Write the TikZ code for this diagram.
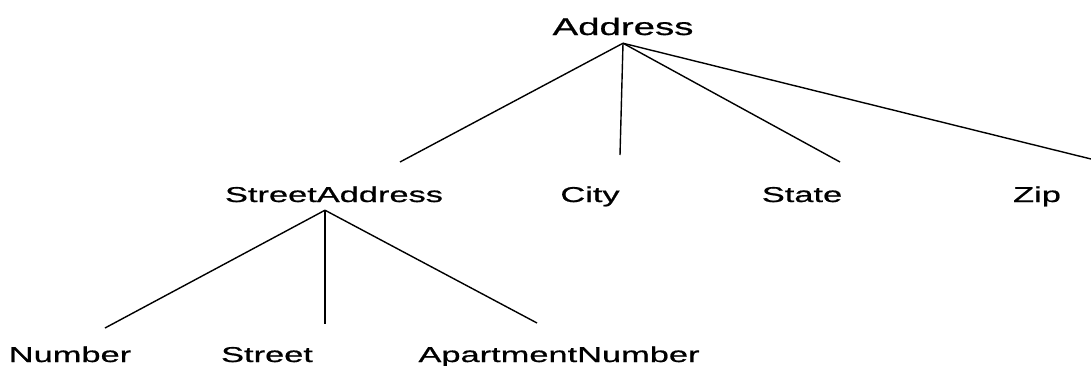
\documentclass[tikz,border=0pt]{standalone}
\usepackage{fontspec}
\usepackage{tikz}
\newfontfamily\treefont{Liberation Sans}[FakeStretch=1.6, FakeBold=0.8]
\tikzset{
  field/.style={font=\treefont\fontsize{21.5}{24}\selectfont, anchor=base, inner sep=0pt, outer ysep=8pt},
  rootfield/.style={field, font=\treefont\fontsize{24}{26}\selectfont},
  branch/.style={line width=1.4pt}
}

\begin{document}
\begin{tikzpicture}[x=1pt, y=-1pt]
\useasboundingbox (0,0) rectangle (1091,365);
% labels
\node[rootfield] (address) at (623,35) {Address};
\node[field] (streetaddr) at (334,202) {StreetAddress};
\node[field] (city) at (590,202) {City};
\node[field] (state) at (802,202) {State};
\node[field] (zip) at (1037,202) {Zip};
\node[field] (number) at (70,362) {Number};
\node[field] (street) at (267,362) {Street};
\node[field] (aptnumber) at (559,362) {ApartmentNumber};
% free ends of the branches
\coordinate (streetaddr-end) at (400,162);
\coordinate (city-end) at (620,155);
\coordinate (state-end) at (840,162);
\coordinate (zip-end) at (1091,159);
\coordinate (number-end) at (105,328);
\coordinate (street-end) at (325,324);
\coordinate (aptnumber-end) at (537,323);
% branches
\draw[branch] (address.south) -- (streetaddr-end);
\draw[branch] (address.south) -- (city-end);
\draw[branch] (address.south) -- (state-end);
\draw[branch] (address.south) -- (zip-end);
\draw[branch] ([xshift=-9pt]streetaddr.south) -- (number-end);
\draw[branch] ([xshift=-9pt]streetaddr.south) -- (street-end);
\draw[branch] ([xshift=-9pt]streetaddr.south) -- (aptnumber-end);
\end{tikzpicture}
\end{document}
